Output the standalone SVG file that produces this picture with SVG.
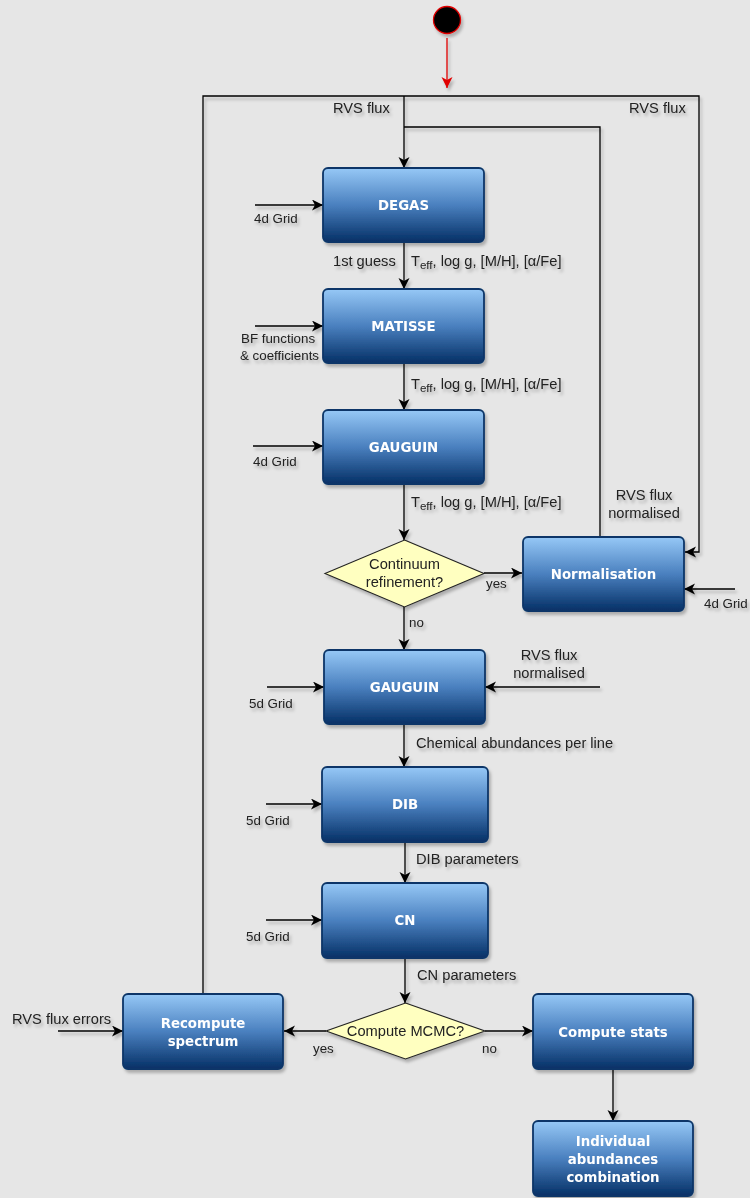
<svg xmlns="http://www.w3.org/2000/svg" width="750" height="1198" viewBox="0 0 750 1198">
<defs>
<linearGradient id="bg" x1="0" y1="0" x2="0" y2="1">
<stop offset="0" stop-color="#96c8f6"/>
<stop offset="0.5" stop-color="#4a80bf"/>
<stop offset="1" stop-color="#053066"/>
</linearGradient>
<filter id="sh" x="-10%" y="-10%" width="130%" height="140%">
<feDropShadow dx="2" dy="3" stdDeviation="1.5" flood-color="#000" flood-opacity="0.25"/>
</filter>
<marker id="ar" markerWidth="12" markerHeight="12" refX="11" refY="5.5" orient="auto" markerUnits="userSpaceOnUse">
<path d="M0,0 L11,5.5 L0,11 L3,5.5 z" fill="#000"/>
</marker>
<marker id="arr" markerWidth="12" markerHeight="12" refX="11" refY="5.5" orient="auto" markerUnits="userSpaceOnUse">
<path d="M0,0 L11,5.5 L0,11 L3,5.5 z" fill="#e00000"/>
</marker>
</defs>
<style>
.box{fill:url(#bg);stroke:#0a3668;stroke-width:1.8}
.bt{font-family:"DejaVu Sans",Verdana,sans-serif;font-weight:bold;font-size:13.33px;fill:#fff;text-anchor:middle}
.t{font-family:"Liberation Sans",Arial,sans-serif;font-size:14.67px;fill:#222}
.s{font-size:13.33px}
.c{text-anchor:middle}
.ln{fill:none;stroke:#000;stroke-width:1.3}
.dia{fill:#ffffc0;stroke:#222;stroke-width:1.1}
</style>
<rect width="750" height="1198" fill="#e6e6e6"/>

<g id="connectors" filter="url(#sh)">
<line x1="447" y1="38" x2="447" y2="88" stroke="#e00000" stroke-width="1.3" marker-end="url(#arr)"/>
<polyline class="ln" points="203,994 203,96 699,96 699,552 685,552" marker-end="url(#ar)"/>
<line class="ln" x1="404" y1="96" x2="404" y2="168" marker-end="url(#ar)"/>
<polyline class="ln" points="404,127 600,127 600,537"/>
<line class="ln" x1="404" y1="242" x2="404" y2="289" marker-end="url(#ar)"/>
<line class="ln" x1="404" y1="363" x2="404" y2="410" marker-end="url(#ar)"/>
<line class="ln" x1="404" y1="484" x2="404" y2="540" marker-end="url(#ar)"/>
<line class="ln" x1="484" y1="573" x2="522" y2="573" marker-end="url(#ar)"/>
<line class="ln" x1="404" y1="607" x2="404" y2="650" marker-end="url(#ar)"/>
<line class="ln" x1="404" y1="724" x2="404" y2="767" marker-end="url(#ar)"/>
<line class="ln" x1="405" y1="842" x2="405" y2="883" marker-end="url(#ar)"/>
<line class="ln" x1="405" y1="958" x2="405" y2="1003" marker-end="url(#ar)"/>
<line class="ln" x1="326" y1="1031" x2="284" y2="1031" marker-end="url(#ar)"/>
<line class="ln" x1="485" y1="1031" x2="533" y2="1031" marker-end="url(#ar)"/>
<line class="ln" x1="613" y1="1069" x2="613" y2="1121" marker-end="url(#ar)"/>
<line class="ln" x1="255" y1="205" x2="323" y2="205" marker-end="url(#ar)"/>
<line class="ln" x1="255" y1="326" x2="323" y2="326" marker-end="url(#ar)"/>
<line class="ln" x1="253" y1="446" x2="323" y2="446" marker-end="url(#ar)"/>
<line class="ln" x1="735" y1="589" x2="684" y2="589" marker-end="url(#ar)"/>
<line class="ln" x1="267" y1="687" x2="324" y2="687" marker-end="url(#ar)"/>
<line class="ln" x1="600" y1="687" x2="485" y2="687" marker-end="url(#ar)"/>
<line class="ln" x1="266" y1="804" x2="322" y2="804" marker-end="url(#ar)"/>
<line class="ln" x1="266" y1="920" x2="322" y2="920" marker-end="url(#ar)"/>
<line class="ln" x1="58" y1="1031" x2="123" y2="1031" marker-end="url(#ar)"/>
</g>

<g id="labels" class="t" filter="url(#sh)">
<text x="333" y="113">RVS flux</text>
<text x="629" y="113">RVS flux</text>
<text class="s" x="254" y="223">4d Grid</text>
<text x="333" y="266">1st guess</text>
<text x="411" y="266">T<tspan font-size="11.5" dy="3">eff</tspan><tspan dy="-3">, log g, [M/H], [α/Fe]</tspan></text>
<text class="s" x="241" y="343">BF functions</text>
<text class="s" x="240" y="360">&amp; coefficients</text>
<text x="411" y="389">T<tspan font-size="11.5" dy="3">eff</tspan><tspan dy="-3">, log g, [M/H], [α/Fe]</tspan></text>
<text class="s" x="253" y="466">4d Grid</text>
<text x="411" y="507">T<tspan font-size="11.5" dy="3">eff</tspan><tspan dy="-3">, log g, [M/H], [α/Fe]</tspan></text>
<text x="644" y="500" class="c">RVS flux</text>
<text x="644" y="518" class="c">normalised</text>
<text class="s" x="486" y="588">yes</text>
<text class="s" x="704" y="608">4d Grid</text>
<text class="s" x="409" y="627">no</text>
<text x="549" y="660" class="c">RVS flux</text>
<text x="549" y="678" class="c">normalised</text>
<text class="s" x="249" y="708">5d Grid</text>
<text x="416" y="748">Chemical abundances per line</text>
<text class="s" x="246" y="825">5d Grid</text>
<text x="416" y="864">DIB parameters</text>
<text class="s" x="246" y="941">5d Grid</text>
<text x="417" y="980">CN parameters</text>
<text x="12" y="1024">RVS flux errors</text>
<text class="s" x="313" y="1053">yes</text>
<text class="s" x="482" y="1053">no</text>
</g>

<g id="start" filter="url(#sh)">
<circle cx="447" cy="20" r="13.5" fill="#000" stroke="#e00000" stroke-width="1.3"/>
</g>
<g id="degas" filter="url(#sh)">
<rect class="box" x="323" y="168" width="161" height="74" rx="5"/>
<text class="bt" x="403.5" y="210">DEGAS</text>
</g>
<g id="matisse" filter="url(#sh)">
<rect class="box" x="323" y="289" width="161" height="74" rx="5"/>
<text class="bt" x="403.5" y="331">MATISSE</text>
</g>
<g id="gauguin1" filter="url(#sh)">
<rect class="box" x="323" y="410" width="161" height="74" rx="5"/>
<text class="bt" x="403.5" y="452">GAUGUIN</text>
</g>
<g id="continuum" filter="url(#sh)">
<polygon class="dia" points="404.5,540 484,573.5 404.5,607 325,573.5"/>
<text class="t c" x="404.5" y="569">Continuum</text>
<text class="t c" x="404.5" y="587">refinement?</text>
</g>
<g id="normalisation" filter="url(#sh)">
<rect class="box" x="523" y="537" width="161" height="74" rx="5"/>
<text class="bt" x="603.5" y="579">Normalisation</text>
</g>
<g id="gauguin2" filter="url(#sh)">
<rect class="box" x="324" y="650" width="161" height="74" rx="5"/>
<text class="bt" x="404.5" y="692">GAUGUIN</text>
</g>
<g id="dib" filter="url(#sh)">
<rect class="box" x="322" y="767" width="166" height="75" rx="5"/>
<text class="bt" x="405" y="809">DIB</text>
</g>
<g id="cn" filter="url(#sh)">
<rect class="box" x="322" y="883" width="166" height="75" rx="5"/>
<text class="bt" x="405" y="925">CN</text>
</g>
<g id="mcmc" filter="url(#sh)">
<polygon class="dia" points="405.5,1003 485,1031 405.5,1059 326,1031"/>
<text class="t c" x="405.5" y="1036">Compute MCMC?</text>
</g>
<g id="recompute" filter="url(#sh)">
<rect class="box" x="123" y="994" width="160" height="75" rx="5"/>
<text class="bt" x="203" y="1028">Recompute</text>
<text class="bt" x="203" y="1046">spectrum</text>
</g>
<g id="stats" filter="url(#sh)">
<rect class="box" x="533" y="994" width="160" height="75" rx="5"/>
<text class="bt" x="613" y="1037">Compute stats</text>
</g>
<g id="combination" filter="url(#sh)">
<rect class="box" x="533" y="1121" width="160" height="75" rx="5"/>
<text class="bt" x="613" y="1146">Individual</text>
<text class="bt" x="613" y="1164">abundances</text>
<text class="bt" x="613" y="1182">combination</text>
</g>
</svg>
